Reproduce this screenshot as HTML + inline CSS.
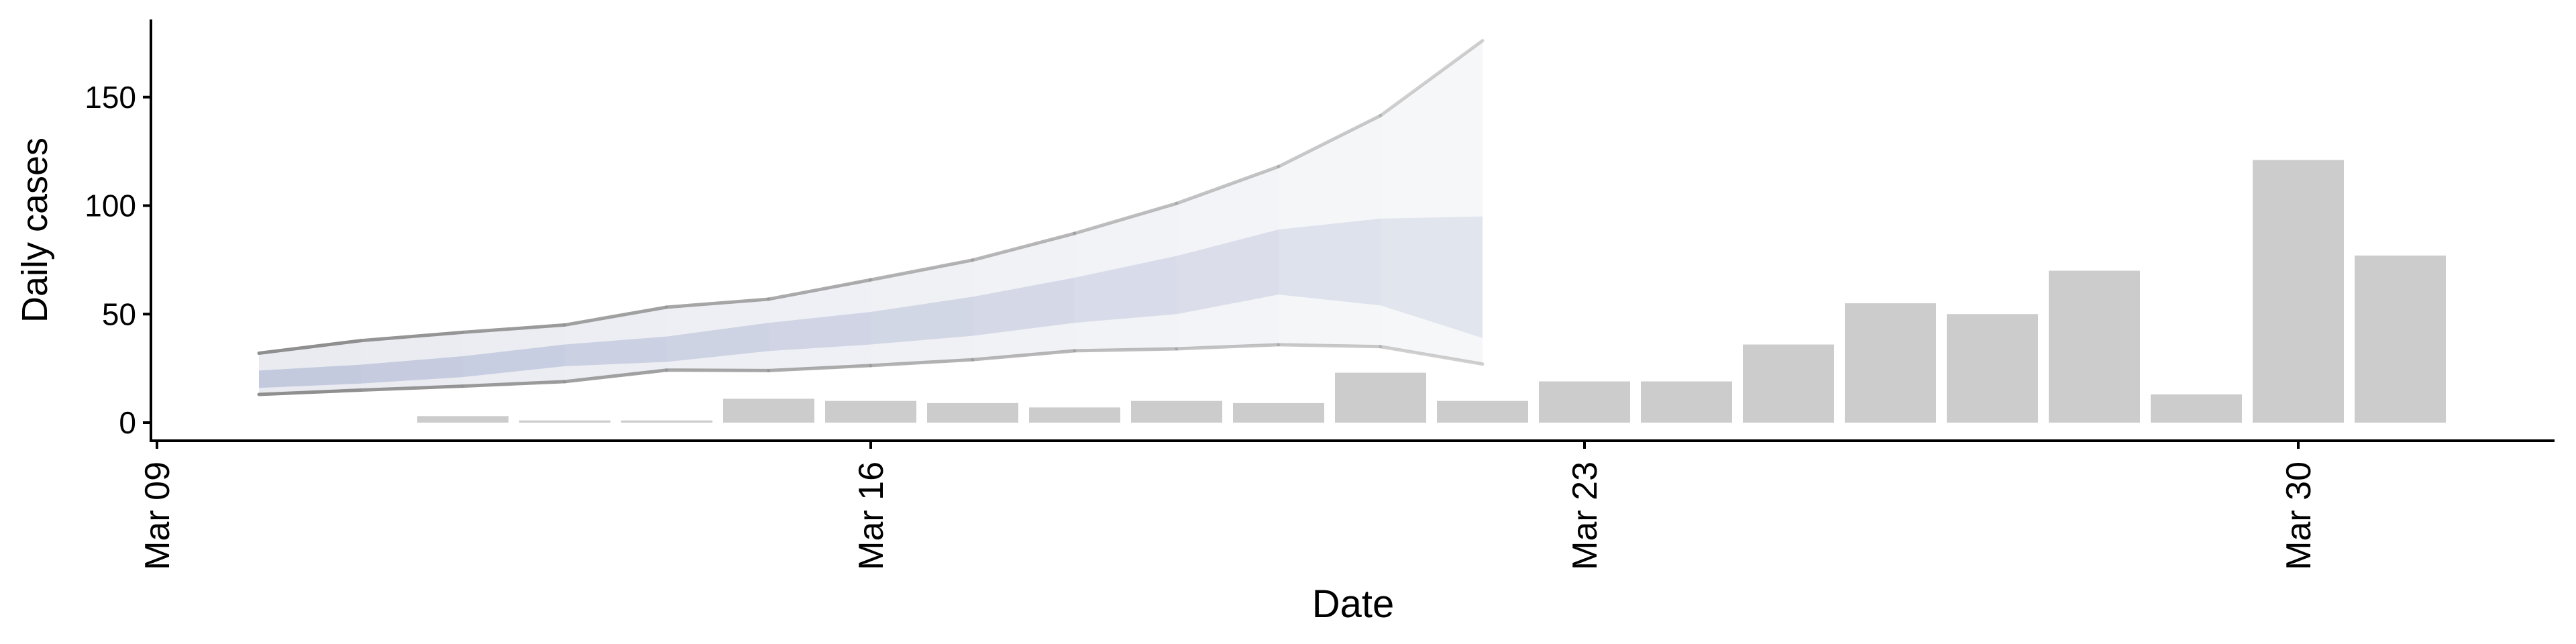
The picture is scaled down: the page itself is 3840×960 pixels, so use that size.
<!DOCTYPE html>
<html><head><meta charset="utf-8"><style>
html,body{margin:0;padding:0;background:#fff;}
svg{display:block;font-family:"Liberation Sans",sans-serif;}
</style></head><body>
<svg id="chart" width="3840" height="960" viewBox="0 0 3840 960" xmlns="http://www.w3.org/2000/svg">
<g id="ribbons"></g>
<g id="bars"></g>
<g id="axes"></g>
<text x="0" y="0" transform="translate(70,343) rotate(-90)" text-anchor="middle" font-size="54">Daily cases</text>
<text x="2017" y="920" text-anchor="middle" font-size="58">Date</text>
</svg>
<script>
// Data
const barDays = [12,13,14,15,16,17,18,19,20,21,22,23,24,25,26,27,28,29,30,31];
const barValues = [3,1,1,11,10,9,7,10,9,23,10,19,19,36,55,50,70,13,121,77];
const ribbonDays = [10,11,12,13,14,15,16,17,18,19,20,21,22];
const upper95 = [32,37.8,41.6,45,53.2,56.9,65.8,74.9,87.2,101,118,141.5,176];
const lower95 = [13,15,16.8,18.9,24.2,24,26.3,29,33.1,34,35.9,35,27];
const upper50 = [24,26.7,30.6,36,39.7,46,51,58,66.8,76.8,89,94,95];
const lower50 = [16,18,21,26,28,33,36,40,46,50,59,54,39];
const yTicks = [0,50,100,150];
const xTickDays = [9,16,23,30];
const xTickLabels = ["Mar 09","Mar 16","Mar 23","Mar 30"];

// Scales
const X0 = 234, DAY = 152;
const Y0 = 630, UNIT = 3.235;
const xs = d => X0 + (d - 9) * DAY;
const ys = v => Y0 - v * UNIT;
const NS = "http://www.w3.org/2000/svg";
function mk(tag, attrs, parent){ const e=document.createElementNS(NS,tag); for(const k in attrs) e.setAttribute(k,attrs[k]); parent.appendChild(e); return e; }

// Ribbons (segment-wise, fading)
const rg = document.getElementById('ribbons');
const n = ribbonDays.length;
for (let i=0;i<n-1;i++){
  const f = i/(n-2);
  const op = 1 - 0.58*f;
  const xa = xs(ribbonDays[i]), xb = xs(ribbonDays[i+1]);
  const outer = mk('polygon',{points:`${xa},${ys(upper95[i])} ${xb},${ys(upper95[i+1])} ${xb},${ys(lower95[i+1])} ${xa},${ys(lower95[i])}`,fill:'#e9ebf1','fill-opacity':op},rg);
  
  
  const inner = mk('polygon',{points:`${xa},${ys(upper50[i])} ${xb},${ys(upper50[i+1])} ${xb},${ys(lower50[i+1])} ${xa},${ys(lower50[i])}`,fill:'#c0c6dc','fill-opacity':op*0.9},rg);
  
  
  const lu = mk('line',{x1:xa,y1:ys(upper95[i]),x2:xb,y2:ys(upper95[i+1]),stroke:'#8f8f8f','stroke-width':5,'stroke-opacity':op,'stroke-linecap':'round'},rg);
  
  
  const ll = mk('line',{x1:xa,y1:ys(lower95[i]),x2:xb,y2:ys(lower95[i+1]),stroke:'#8f8f8f','stroke-width':5,'stroke-opacity':op,'stroke-linecap':'round'},rg);
  
  
}

// Bars
const bg = document.getElementById('bars');
const BW = 136;
barDays.forEach((d,i)=>{
  const v = barValues[i];
  const r = mk('rect',{x:xs(d)-BW/2,y:ys(v),width:BW,height:Math.max(v*UNIT,2),fill:'#cccccc'},bg);
  
  
});

// Axes
const ag = document.getElementById('axes');
const ya = mk('line',{x1:225,y1:29,x2:225,y2:659,stroke:'#000','stroke-width':4},ag);


const xa = mk('line',{x1:223,y1:657,x2:3808,y2:657,stroke:'#000','stroke-width':4},ag);


yTicks.forEach(t=>{
  const tk = mk('line',{x1:213,y1:ys(t),x2:225,y2:ys(t),stroke:'#000','stroke-width':4},ag);
  
  
  const tl = mk('text',{x:203,y:ys(t)+16,'text-anchor':'end','font-size':46},ag);
  tl.textContent = t;
  
  
});
xTickDays.forEach((d,i)=>{
  const x = xs(d);
  const tk = mk('line',{x1:x,y1:657,x2:x,y2:669,stroke:'#000','stroke-width':4},ag);
  
  
  const tl = mk('text',{x:0,y:0,transform:`translate(${x+18},688) rotate(-90)`,'text-anchor':'end','font-size':52},ag);
  tl.textContent = xTickLabels[i];
  
  
});
</script>
</body></html>
